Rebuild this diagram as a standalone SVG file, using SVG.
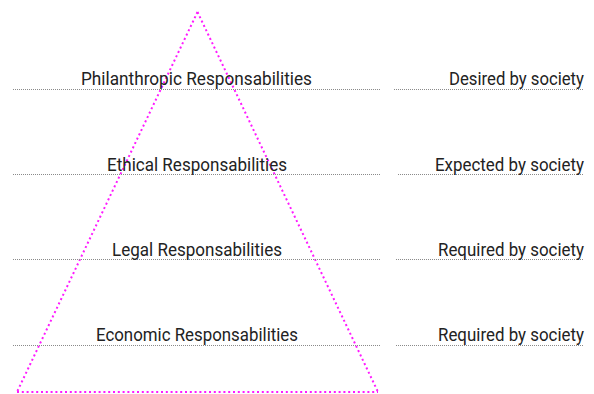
<svg xmlns="http://www.w3.org/2000/svg" width="594" height="394" viewBox="0 0 594 394">
  <style>
    .rule { stroke: #8a8a8a; stroke-width: 1; stroke-dasharray: 1 1; fill: none; }
    .pyramid { stroke: #ff1aff; stroke-width: 2; stroke-dasharray: 2 2.8; fill: none; }
    .label { font-family: Roboto, "Liberation Sans", sans-serif; font-size: 18.5px; fill: #222; }
    .mid { text-anchor: middle; }
    .end { text-anchor: end; }
  </style>
  <rect width="594" height="394" fill="#ffffff"/>

  <!-- pyramid outline -->
  <g id="pyramid">
    <path class="pyramid" d="M197.5 12 L17 392"/>
    <path class="pyramid" d="M197.5 12 L378 392"/>
    <path class="pyramid" d="M17 392 L378 392"/>
  </g>

  <!-- dotted rules under each level -->
  <g id="connectors">
    <path class="rule" d="M13 89.5 H381"/>
    <path class="rule" d="M394 89.5 H584"/>
    <path class="rule" d="M13 174.5 H381"/>
    <path class="rule" d="M398 174.5 H584"/>
    <path class="rule" d="M13 259.5 H381"/>
    <path class="rule" d="M396 259.5 H584"/>
    <path class="rule" d="M13 345.5 H381"/>
    <path class="rule" d="M396 345.5 H584"/>
  </g>

  <g id="philanthropic">
    <text class="label mid" x="196.5" y="85" textLength="231" lengthAdjust="spacingAndGlyphs">Philanthropic Responsabilities</text>
    <text class="label end" x="584" y="85" textLength="135" lengthAdjust="spacingAndGlyphs">Desired by society</text>
  </g>
  <g id="ethical">
    <text class="label mid" x="197" y="171" textLength="180" lengthAdjust="spacingAndGlyphs">Ethical Responsabilities</text>
    <text class="label end" x="584" y="171" textLength="149" lengthAdjust="spacingAndGlyphs">Expected by society</text>
  </g>
  <g id="legal">
    <text class="label mid" x="197" y="256" textLength="170" lengthAdjust="spacingAndGlyphs">Legal Responsabilities</text>
    <text class="label end" x="584" y="256" textLength="146" lengthAdjust="spacingAndGlyphs">Required by society</text>
  </g>
  <g id="economic">
    <text class="label mid" x="197" y="341" textLength="202" lengthAdjust="spacingAndGlyphs">Economic Responsabilities</text>
    <text class="label end" x="584" y="341" textLength="146" lengthAdjust="spacingAndGlyphs">Required by society</text>
  </g>
</svg>
